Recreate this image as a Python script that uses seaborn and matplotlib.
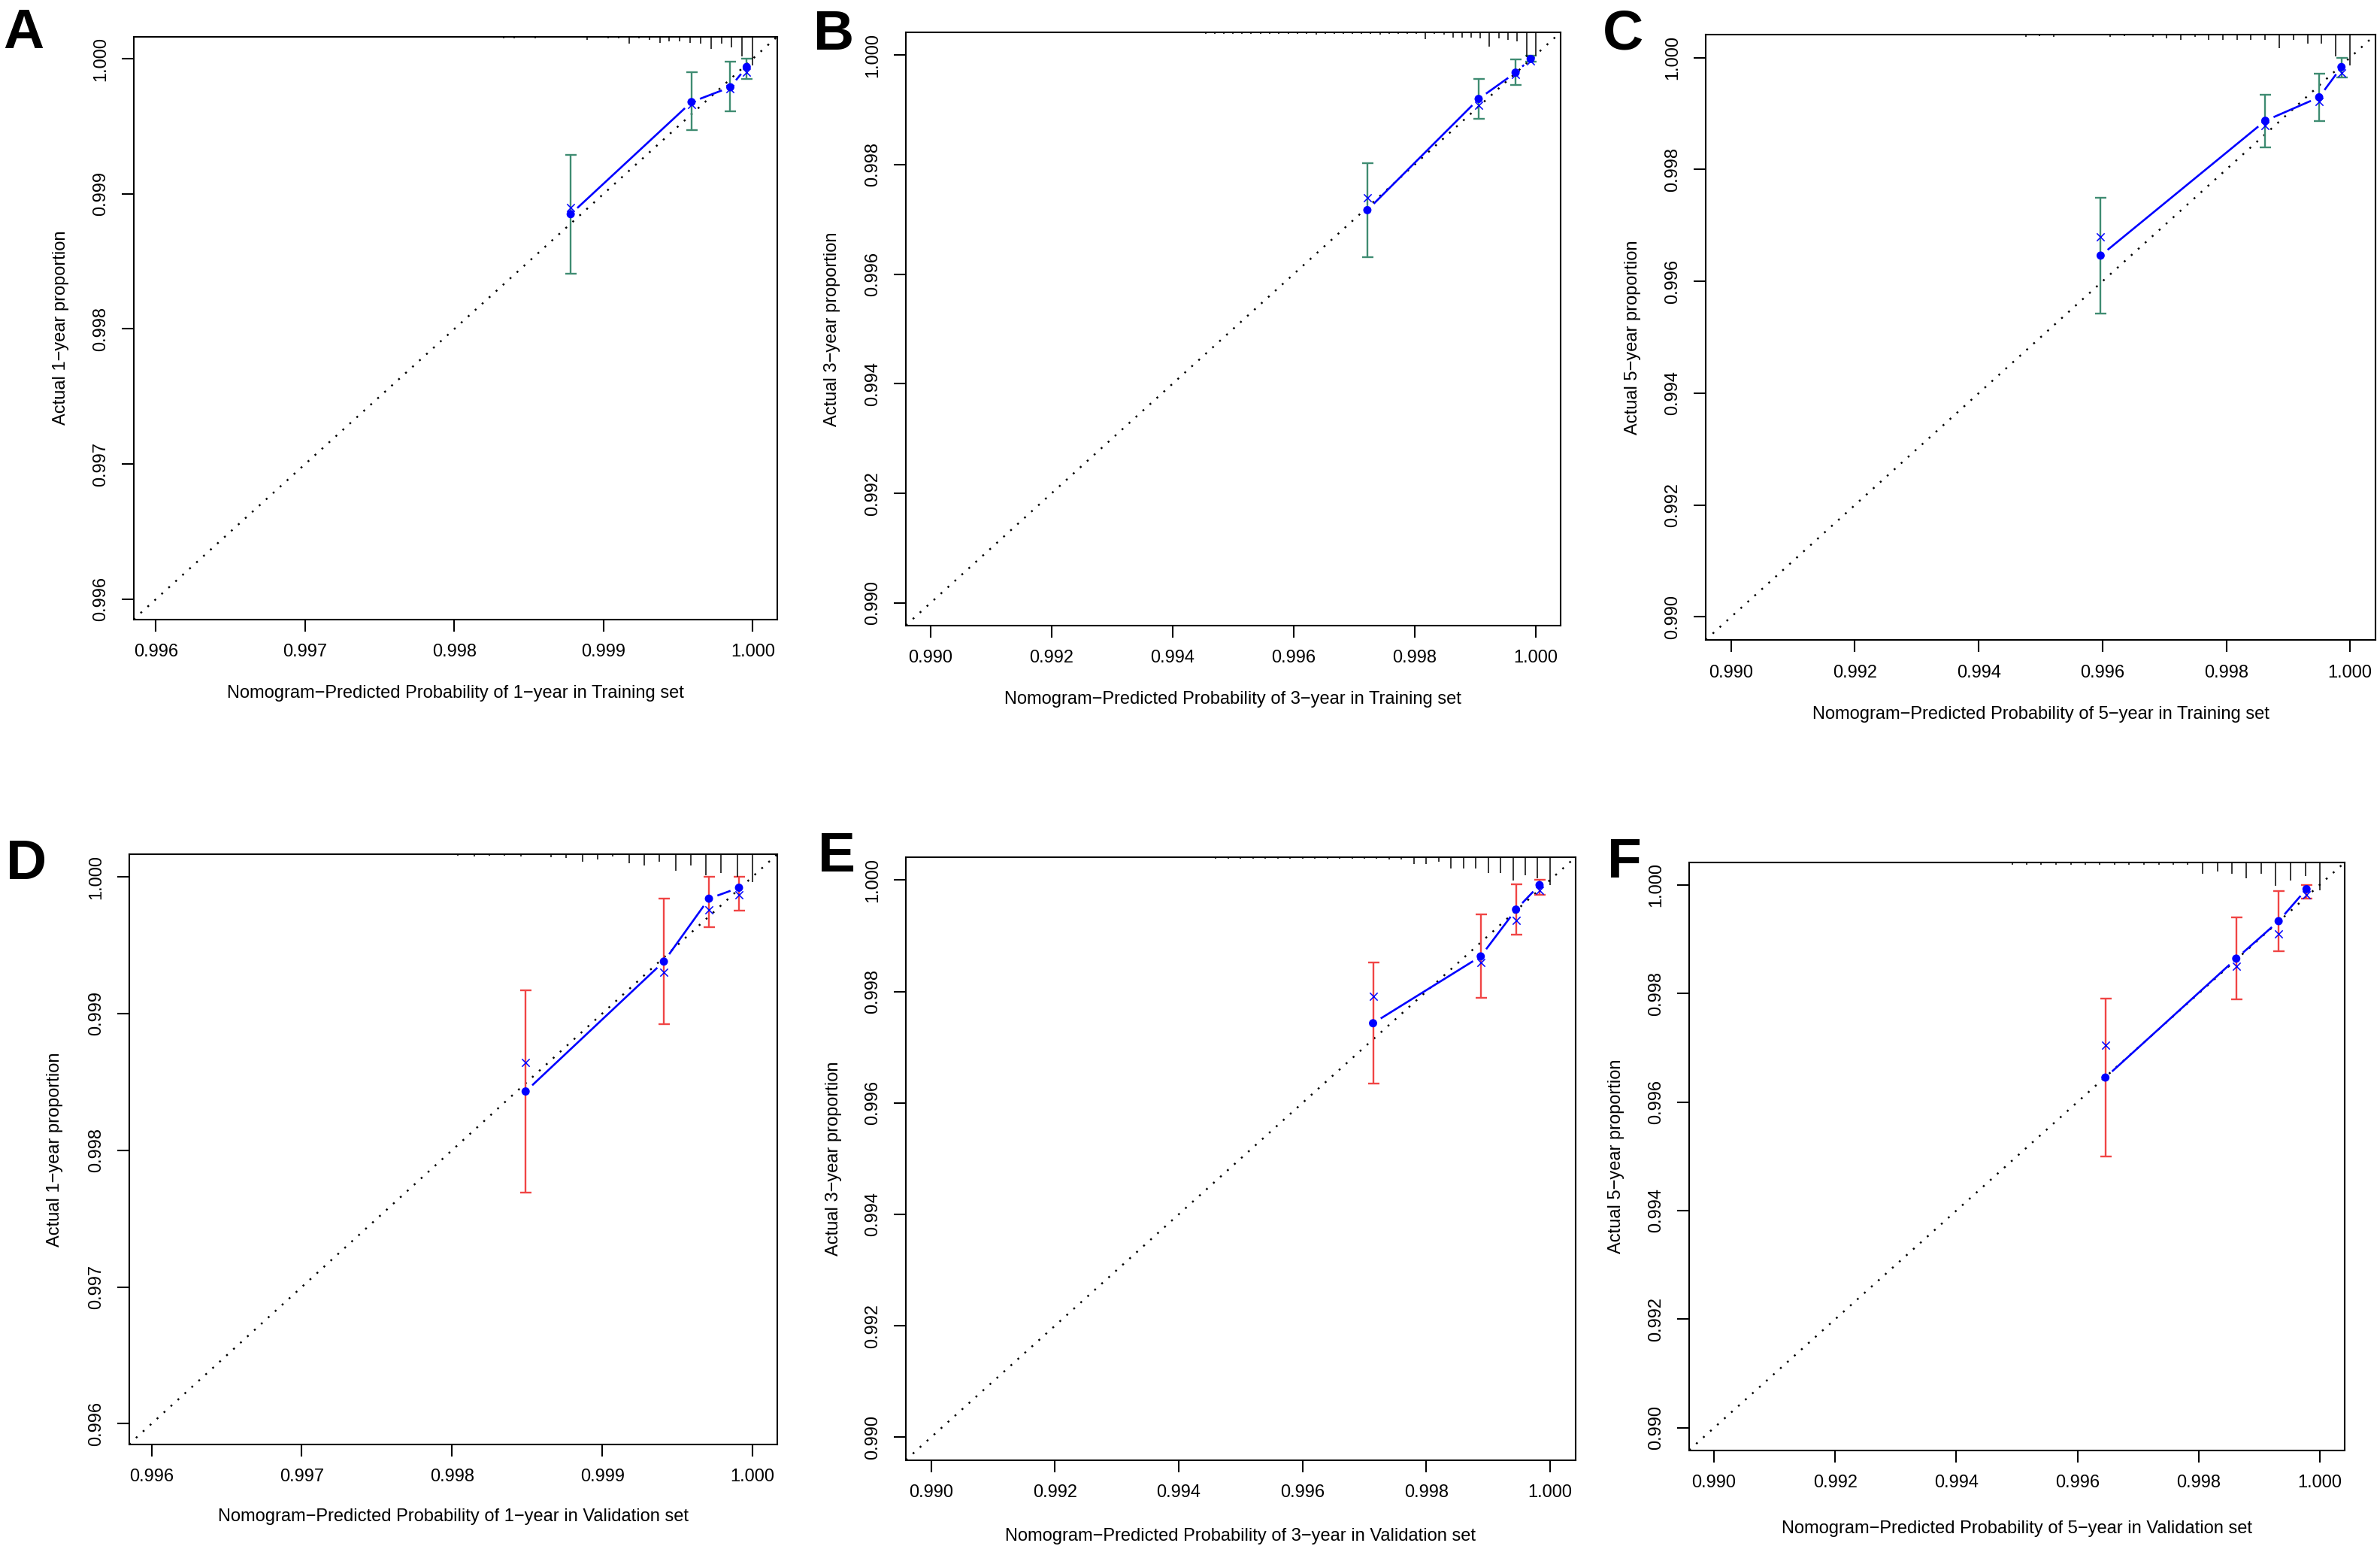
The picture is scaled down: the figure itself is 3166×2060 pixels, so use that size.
import numpy as np
import pandas as pd
import matplotlib
matplotlib.use("Agg")
import matplotlib.pyplot as plt
import matplotlib.transforms as mtrans
from matplotlib import font_manager
import seaborn as sns

# ---------------- data ----------------
letters = ["A", "B", "C", "D", "E", "F"]
years = ["1", "3", "5", "1", "3", "5"]
sets = ["Training", "Training", "Training", "Validation", "Validation", "Validation"]

ticks_1y = [0.996, 0.997, 0.998, 0.999, 1.000]
ticks_35y = [0.990, 0.992, 0.994, 0.996, 0.998, 1.000]

# A: 1-year, training
a_pred = [0.99878, 0.99959, 0.99985, 0.99996]
a_obs = [0.99885, 0.99968, 0.99979, 0.99994]
a_corr = [0.99890, 0.99966, 0.99978, 0.99990]
a_lo = [0.99841, 0.99947, 0.99961, 0.99985]
a_hi = [0.99929, 0.99990, 0.99998, 1.00000]
a_rug_x = [0.99778, 0.99785, 0.99792, 0.99799, 0.99806, 0.99813, 0.99820, 0.99827,
           0.99833, 0.99840, 0.99847, 0.99854, 0.99861, 0.99868, 0.99875, 0.99882,
           0.99889, 0.99896, 0.99903, 0.99910, 0.99917, 0.99924, 0.99931, 0.99938,
           0.99944, 0.99951, 0.99958, 0.99965, 0.99972, 0.99979, 0.99986, 0.99993, 1.00000]
a_rug_n = [1.3, 1.3, 1.3, 1.3, 1.3, 1.3, 1.3, 1.3, 2, 2.7, 1.3, 2, 1.3, 1.3, 1.3, 1.3,
           4.7, 1.3, 2, 2, 9.3, 2.7, 4, 8, 6.7, 6.7, 8, 9.3, 16, 9.3, 14, 26.7, 38.3]

# B: 3-year, training
b_pred = [0.99722, 0.99906, 0.99967, 0.99992]
b_obs = [0.99717, 0.99920, 0.99968, 0.99993]
b_corr = [0.99740, 0.99909, 0.99964, 0.99990]
b_lo = [0.99631, 0.99884, 0.99945, 0.99988]
b_hi = [0.99803, 0.99957, 0.99992, 0.99999]
b_rug_x = [0.99455, 0.99470, 0.99485, 0.99500, 0.99515, 0.99530, 0.99546, 0.99561,
           0.99576, 0.99591, 0.99606, 0.99621, 0.99637, 0.99652, 0.99667, 0.99682,
           0.99697, 0.99712, 0.99727, 0.99743, 0.99758, 0.99773, 0.99788, 0.99803,
           0.99818, 0.99833, 0.99849, 0.99864, 0.99879, 0.99894, 0.99909, 0.99924,
           0.99939, 0.99955, 0.99970, 0.99985, 1.00000]
b_rug_n = [1.5, 1.5, 1.5, 1.5, 1.5, 1.5, 1.5, 1.5, 1.5, 1.5, 1.5, 1.5, 3, 1.5, 1.5, 1.5,
           1.5, 1.5, 1.5, 3, 1.5, 1.5, 1.5, 1.5, 9, 2, 3, 7, 7, 7, 8, 19, 8, 10, 12, 33, 31]

# C: 5-year, training
c_pred = [0.99597, 0.99863, 0.99950, 0.99986]
c_obs = [0.99646, 0.99887, 0.99929, 0.99983]
c_corr = [0.99679, 0.99878, 0.99921, 0.99973]
c_lo = [0.99543, 0.99840, 0.99886, 0.99965]
c_hi = [0.99750, 0.99933, 0.99971, 1.00000]
c_rug_x = [0.99476, 0.99498, 0.99521, 0.99544, 0.99567, 0.99590, 0.99612, 0.99635,
           0.99658, 0.99681, 0.99704, 0.99726, 0.99749, 0.99772, 0.99795, 0.99818,
           0.99840, 0.99863, 0.99886, 0.99909, 0.99932, 0.99954, 0.99977, 1.00000]
c_rug_n = [2.7, 2, 2.7, 1.3, 1.3, 1.3, 2.7, 2, 1.3, 2.7, 4.7, 6.7, 2.7, 6.7, 7.3, 7.3,
           7.3, 7.3, 18.3, 7.3, 12, 12, 29.3, 40.7]

# D: 1-year, validation
d_pred = [0.99849, 0.99941, 0.99971, 0.99991]
d_obs = [0.99843, 0.99938, 0.99984, 0.99992]
d_corr = [0.99864, 0.99930, 0.99976, 0.99987]
d_lo = [0.99769, 0.99892, 0.99963, 0.99975]
d_hi = [0.99917, 0.99984, 1.00000, 1.00000]
d_rug_x = [0.99784, 0.99794, 0.99804, 0.99815, 0.99825, 0.99835, 0.99846, 0.99856,
           0.99866, 0.99876, 0.99887, 0.99897, 0.99907, 0.99918, 0.99928, 0.99938,
           0.99949, 0.99959, 0.99969, 0.99979, 0.99990, 1.00000]
d_rug_n = [1.3, 1.3, 2, 3.3, 2, 2, 2.7, 1.3, 4, 4.7, 10, 6.7, 3.3, 11.7, 15, 10,
           21.7, 15, 28.3, 25, 30, 36.7]

# E: 3-year, validation
e_pred = [0.99714, 0.99888, 0.99945, 0.99983]
e_obs = [0.99743, 0.99863, 0.99947, 0.99991]
e_corr = [0.99791, 0.99852, 0.99928, 0.99982]
e_lo = [0.99635, 0.99788, 0.99902, 0.99974]
e_hi = [0.99852, 0.99938, 0.99993, 1.00000]
e_rug_x = [0.99460, 0.99480, 0.99500, 0.99520, 0.99540, 0.99560, 0.99580, 0.99600,
           0.99620, 0.99640, 0.99660, 0.99680, 0.99700, 0.99720, 0.99740, 0.99760,
           0.99780, 0.99800, 0.99820, 0.99840, 0.99860, 0.99880, 0.99900, 0.99920,
           0.99940, 0.99960, 0.99980, 1.00000]
e_rug_n = [2, 2, 2, 2, 2, 2, 2, 2, 2, 2, 2, 2, 2, 2, 3, 3,
           9, 9, 6, 15, 15, 15, 21, 21, 31, 24, 28, 37]

# F: 5-year, validation
f_pred = [0.99646, 0.99862, 0.99932, 0.99978]
f_obs = [0.99645, 0.99864, 0.99933, 0.99992]
f_corr = [0.99704, 0.99850, 0.99910, 0.99981]
f_lo = [0.99500, 0.99789, 0.99878, 0.99975]
f_hi = [0.99791, 0.99940, 0.99988, 1.00000]
f_rug_x = [0.99492, 0.99516, 0.99540, 0.99564, 0.99589, 0.99613, 0.99637, 0.99661,
           0.99685, 0.99710, 0.99734, 0.99758, 0.99782, 0.99806, 0.99831, 0.99855,
           0.99879, 0.99903, 0.99927, 0.99952, 0.99976, 1.00000]
f_rug_n = [3, 3, 3, 3, 3, 3, 3, 3, 3, 3, 3, 3, 3, 15, 12, 15, 21, 15, 31, 24, 18, 37]

# ---------------- style ----------------
sns.set_theme(style="ticks")
names = {f.name for f in font_manager.fontManager.ttflist}
if "Liberation Sans Narrow" in names:
    FAM = "Liberation Sans Narrow"
    FS, FS_LET = 20, 58
else:
    FAM = "Liberation Sans"
    FS, FS_LET = 17, 54
plt.rcParams["font.family"] = [FAM, "DejaVu Sans"]
plt.rcParams["axes.edgecolor"] = "black"
plt.rcParams["xtick.color"] = "black"
plt.rcParams["ytick.color"] = "black"
plt.rcParams["text.color"] = "black"
plt.rcParams["axes.labelcolor"] = "black"

W, H = 3166, 2060
fig = plt.figure(figsize=(W / 100, H / 100), dpi=100)
fig.patch.set_facecolor("white")

GREEN = "#3F8C72"
RED = "#F04545"
MINUS = "\u2212"

series = [
    (a_pred, a_obs, a_corr, a_lo, a_hi, a_rug_x, a_rug_n),
    (b_pred, b_obs, b_corr, b_lo, b_hi, b_rug_x, b_rug_n),
    (c_pred, c_obs, c_corr, c_lo, c_hi, c_rug_x, c_rug_n),
    (d_pred, d_obs, d_corr, d_lo, d_hi, d_rug_x, d_rug_n),
    (e_pred, e_obs, e_corr, e_lo, e_hi, e_rug_x, e_rug_n),
    (f_pred, f_obs, f_corr, f_lo, f_hi, f_rug_x, f_rug_n),
]

# layout in pixels: (left, top, right, bottom), label offsets, letter position
boxes = [(177.7, 48.6, 1034, 823.7), (1205, 43.4, 2075.6, 831.6), (2269, 46, 3160, 851),
         (171.6, 1136, 1034, 1920.7), (1205, 1140, 2095.7, 1941.6), (2247, 1147, 3119, 1928.5)]
xlab_off = [98, 98, 99, 96, 101, 105]
ylab_off = [97, 98, 97, 99, 96, 97]
letter_pos = [(4, 64), (1082, 66), (2132, 66), (8, 1169), (1088, 1159), (2138, 1167)]
lims_small = (0.99585, 1.000165)
lims_big = (0.98959, 1.00041)

for i, (pred, obs, corr, lo, hi, rx, rn) in enumerate(series):
    l, t, r, b = boxes[i]
    axw, axh = r - l, b - t
    ax = fig.add_axes([l / W, 1 - b / H, axw / W, axh / H])
    lims = lims_small if years[i] == "1" else lims_big
    ticks = ticks_1y if years[i] == "1" else ticks_35y
    ax.set_xlim(lims)
    ax.set_ylim(lims)
    col = GREEN if sets[i] == "Training" else RED

    df = pd.DataFrame({"pred": pred, "obs": obs, "corr": corr, "lo": lo, "hi": hi})

    # ideal line
    ax.axline((lims[0], lims[0]), slope=1, color="black", lw=1.8,
              linestyle=(0, (1, 4.0)), zorder=1)

    # error bars
    ax.errorbar(df["pred"], df["obs"],
                yerr=[df["obs"] - df["lo"], df["hi"] - df["obs"]],
                fmt="none", ecolor=col, elinewidth=1.7, capsize=5.4,
                capthick=1.7, zorder=2)

    # connecting line with gaps around points (R type="b")
    pts = ax.transData.transform(np.column_stack([df["pred"], df["obs"]]))
    inv = ax.transData.inverted()
    gap = 12.0
    for k in range(len(pts) - 1):
        p0, p1 = pts[k], pts[k + 1]
        d = p1 - p0
        L = np.hypot(*d)
        if L > 2 * gap + 1:
            u = d / L
            seg = inv.transform(np.vstack([p0 + u * gap, p1 - u * gap]))
            ax.plot(seg[:, 0], seg[:, 1], color="blue", lw=1.9,
                    solid_capstyle="butt", zorder=3)

    sns.scatterplot(data=df, x="pred", y="obs", ax=ax, color="blue", s=62,
                    edgecolor="none", zorder=4, legend=False)
    sns.scatterplot(data=df, x="pred", y="corr", ax=ax, color="blue", marker="x",
                    s=55, linewidth=1.1, zorder=5, legend=False)

    # distribution of predictions (top rug)
    trans = mtrans.blended_transform_factory(ax.transData, ax.transAxes)
    ax.vlines(rx, 1 - np.asarray(rn) / axh, 1, transform=trans, color="black",
              lw=1.1, zorder=6)

    # axes styling
    ax.set_xticks(ticks)
    ax.set_xticklabels([f"{v:.3f}" for v in ticks])
    ax.set_yticks(ticks)
    ax.set_yticklabels([f"{v:.3f}" for v in ticks], rotation=90, va="center")
    ax.tick_params(length=11.5, width=1.5, pad=12, labelsize=FS, colors="black",
                   direction="out")
    for sp in ax.spines.values():
        sp.set_visible(True)
        sp.set_linewidth(1.5)
        sp.set_color("black")

    ax.set_xlabel(f"Nomogram{MINUS}Predicted Probability of {years[i]}{MINUS}year in {sets[i]} set",
                  fontsize=FS, va="center")
    ax.xaxis.set_label_coords(0.5, -xlab_off[i] / axh)
    ax.set_ylabel(f"Actual {years[i]}{MINUS}year proportion", fontsize=FS,
                  va="center", ha="center")
    ax.yaxis.set_label_coords(-ylab_off[i] / axw, 0.5)

    lx, ly = letter_pos[i]
    fig.text(lx / W, 1 - ly / H, letters[i], fontsize=FS_LET, fontweight="bold",
             ha="left", va="baseline")

fig.savefig("out.png", dpi=100, facecolor="white")
